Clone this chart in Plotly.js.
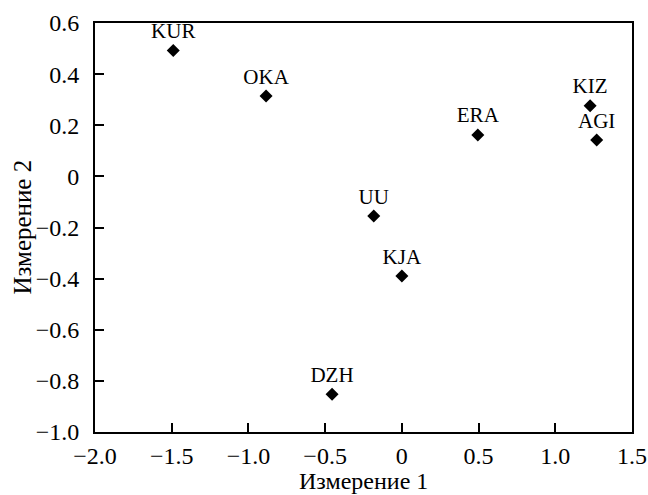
<!DOCTYPE html>
<html><head><meta charset="utf-8">
<script src="https://cdn.plot.ly/plotly-3.0.1.min.js"></script>
<style>html,body{margin:0;padding:0;background:#fff}</style>
</head><body><div id="chart" style="width:648px;height:495px"></div>
<script>
const labels = ["KUR","OKA","ERA","KIZ","AGI","UU","KJA","DZH"];
const dim1 = [-1.49,-0.885,0.495,1.227,1.27,-0.183,0.0,-0.455];
const dim2 = [0.492,0.314,0.162,0.276,0.142,-0.155,-0.39,-0.852];
const xTickVals = [-2.0,-1.5,-1.0,-0.5,0,0.5,1.0,1.5];
const xTickText = ["\u22122.0","\u22121.5","\u22121.0","\u22120.5","0","0.5","1.0","1.5"];
const yTickVals = [0.6,0.4,0.2,0,-0.2,-0.4,-0.6,-0.8,-1.0];
const yTickText = ["0.6","0.4","0.2","0","\u22120.2","\u22120.4","\u22120.6","\u22120.8","\u22121.0"];

const serif = "Liberation Serif";
const trace = {
  x: dim1, y: dim2, text: labels,
  mode: "markers+text", type: "scatter",
  textposition: "top center",
  textfont: {family: serif, size: 21, color: "#000"},
  marker: {symbol: "diamond", size: 10, color: "#000"},
  hoverinfo: "none", cliponaxis: false
};
const axisCommon = {
  showline: true, linecolor: "#000", linewidth: 2, mirror: true,
  ticks: "inside", ticklen: 9, tickwidth: 2, tickcolor: "#000",
  showgrid: false, zeroline: false,
  tickfont: {family: serif, size: 24, color: "#000"}
};
const layout = {
  width: 648, height: 495,
  margin: {l: 95, r: 16, t: 23, b: 63},
  paper_bgcolor: "#fff", plot_bgcolor: "#fff",
  showlegend: false,
  font: {family: serif, color: "#000"},
  xaxis: Object.assign({}, axisCommon, {range: [-2.0, 1.5], tickmode: "array", tickvals: xTickVals, ticktext: xTickText, ticklabelstandoff: 1}),
  yaxis: Object.assign({}, axisCommon, {range: [-1.0, 0.6], tickmode: "array", tickvals: yTickVals, ticktext: yTickText, ticklabelstandoff: 9}),
  annotations: [
    {text: "Измерение 1", xref: "paper", yref: "paper", x: 0.5, y: 0, yshift: -34, showarrow: false,
     xanchor: "center", yanchor: "top", font: {family: serif, size: 24, color: "#000"}},
    {text: "Измерение 2", xref: "paper", yref: "paper", x: 0, xshift: -73, y: 0.5, showarrow: false,
     textangle: -90, xanchor: "center", yanchor: "middle", font: {family: serif, size: 25, color: "#000"}}
  ]
};
Plotly.newPlot("chart", [trace], layout, {displayModeBar: false, staticPlot: true});
</script></body></html>
